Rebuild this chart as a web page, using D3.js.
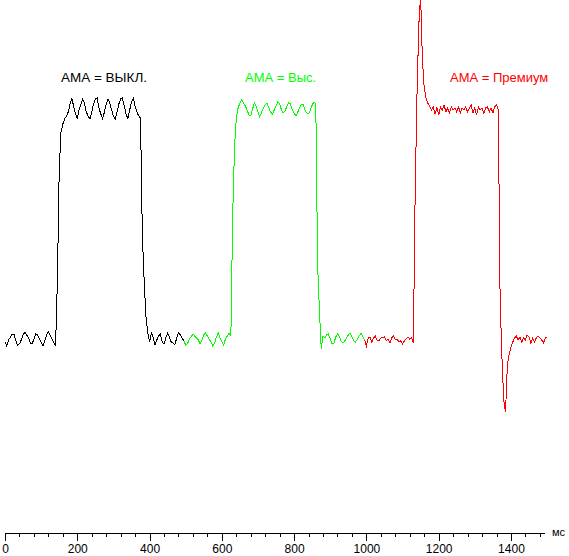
<!DOCTYPE html>
<html>
<head>
<meta charset="utf-8">
<script src="https://cdn.jsdelivr.net/npm/d3@7"></script>
<style>
  html, body { margin: 0; padding: 0; background: #ffffff; }
  svg { display: block; }
</style>
</head>
<body>
<div id="chart"></div>
<script>
// ---------------- DATA ----------------
// time step between samples (ms)
const sampleStepMs = 5;
// start time (ms) of each recorded series
const seriesStartMs = [0, 495, 995];
const seriesNames = ["АМА = ВЫКЛ.", "АМА = Выс.", "АМА = Премиум"];

// relative brightness (0 = dark level, 100 = bright level)
const offValues = [
  -0.9,-2.6,0,1.3,2.6,2.6,-0.4,-2.2,-1.7,0,
  2.2,3.5,2.2,0.9,-1.3,-1.7,0.4,2.6,2.2,0.4,
  -0.9,-2.6,-0.4,2.2,3.5,2.2,0.4,-1.3,-2.2,26.1,
  73.9,90.4,93.9,96.1,97.4,99.1,102.6,104.8,101.7,98.3,
  96.5,100,102.6,104.8,103.0,99.1,97.4,96.1,99.1,102.6,
  104.8,105.2,100.9,98.3,96.1,99.1,102.6,104.8,103.0,100,
  97.4,96.1,99.1,102.6,104.8,105.2,101.7,98.3,96.1,100,
  103.5,105.2,101.7,99.1,97.4,96.5,45.7,26.1,10.4,3.0,
  -0.9,3.0,1.3,-2.2,0,1.7,2.6,-0.9,-1.7,0.9,
  3.0,1.3,-0.9,-1.3,-2.2,0.9,3.0,2.2,0.9,-0.4
];
const highValues = [
  -0.4,-2.2,-1.7,0.4,1.3,2.6,1.7,0.9,0,-1.7,
  0,2.2,3.0,1.7,0.4,-0.9,-2.6,-1.3,1.3,3.0,
  0.9,-0.9,-2.2,0.4,1.7,3.0,1.7,54.3,83.5,96.5,
  100.9,103.0,104.3,103.0,101.7,100,97.8,97.4,100.4,103.0,
  101.7,99.1,97.0,99.1,100.9,102.2,103.0,100.9,99.1,98.3,
  100,101.7,103.5,102.6,100,98.7,99.6,101.7,103.0,102.6,
  100,98.7,97.4,99.1,100.9,102.6,102.6,100,98.7,98.3,
  100,102.2,103.5,102.6,32.6,13.0,-3.9,1.7,0.9,2.2,
  2.6,0.4,-1.7,-1.7,1.3,2.6,1.7,-0.4,-1.3,-0.4,
  0.9,2.2,3.0,1.3,-0.4,-0.9,0.4,1.7,3.0,1.3,
  0
];
const premiumValues = [
  0,-2.6,0.9,1.3,-0.9,0.9,1.7,-0.4,-0.4,0.9,
  0.9,1.3,-0.4,0.4,-1.3,0.9,1.7,0,0.4,-0.9,
  -0.4,-1.7,-0.4,0.4,1.3,0.4,0.9,-1.3,65.2,106.5,
  137,150,121.7,109.6,105.2,103.0,101.7,100,101.3,98.3,
  100.9,97.8,101.3,100,102.2,99.1,100.9,98.7,101.3,100,
  100.9,99.1,101.3,98.7,100.9,100,101.3,99.1,100.9,102.2,
  98.7,100.9,97.8,101.3,100,100.9,98.7,100.9,101.3,99.1,
  100.9,98.7,101.3,102.2,100,17.4,-7.4,-26.1,-31.3,-10.9,
  -6.1,-3.0,-0.9,0.9,1.7,0,1.3,-0.9,0.9,0,
  2.2,1.3,-1.3,0.9,-0.9,0.9,1.7,0.9,0,-1.3,
  0.9,1.3
];
const majorTicks = [0, 200, 400, 600, 800, 1000, 1200, 1400];
const minorTickStepMs = 40;
const axisEndMs = 1492;
const axisUnit = "мс";

// ---------------- LAYOUT / STYLE ----------------
const W = 569, H = 556;
const colors = ["#000000", "#00ff00", "#ff0000"];
const labelX = [61, 245, 450];
const labelWidth = [86, null, null];
const labelY = 82;
const axisY = 533;
const fontFamily = "'Liberation Sans', Arial, sans-serif";

const svg = d3.select("#chart").append("svg")
  .attr("width", W).attr("height", H);

const x = d3.scaleLinear().domain([0, axisEndMs]).range([5, 5 + 0.3614 * axisEndMs]);
const y = d3.scaleLinear().domain([0, 100]).range([340, 110]);

const seriesValues = [offValues, highValues, premiumValues];
const series = seriesValues.map((vals, i) =>
  vals.map((v, j) => ({ t: seriesStartMs[i] + j * sampleStepMs, v })));

const line = d3.line().x(d => x(d.t)).y(d => y(d.v));

svg.append("g").selectAll("path")
  .data(series)
  .join("path")
  .attr("d", line)
  .attr("fill", "none")
  .attr("stroke", (d, i) => colors[i])
  .attr("stroke-width", 1)
  .attr("shape-rendering", "crispEdges");

// labels
svg.append("g").selectAll("text")
  .data(seriesNames)
  .join("text")
  .attr("x", (d, i) => labelX[i])
  .attr("y", labelY)
  .attr("fill", (d, i) => colors[i])
  .attr("font-family", fontFamily)
  .attr("font-size", 13)
  .each(function (d, i) {
    if (labelWidth[i]) {
      d3.select(this).attr("textLength", labelWidth[i]).attr("lengthAdjust", "spacingAndGlyphs");
    }
  })
  .text(d => d);

// axis: minor ticks
const minorTicks = d3.range(0, axisEndMs, minorTickStepMs);
const gMinor = svg.append("g")
  .attr("transform", `translate(0,${axisY})`)
  .call(d3.axisBottom(x).tickValues(minorTicks).tickSize(4).tickSizeOuter(0).tickFormat(""));
// axis: major ticks with labels
const gMajor = svg.append("g")
  .attr("transform", `translate(0,${axisY})`)
  .call(d3.axisBottom(x).tickValues(majorTicks).tickSize(8).tickSizeOuter(0).tickPadding(3).tickFormat(d3.format("d")));

[gMinor, gMajor].forEach(g => {
  g.attr("font-family", fontFamily).attr("font-size", 12);
  g.selectAll("line").attr("stroke", "#000").attr("shape-rendering", "crispEdges");
  g.select(".domain").attr("stroke", "#000").attr("shape-rendering", "crispEdges");
  g.selectAll("text").attr("fill", "#000");
});

svg.append("text")
  .attr("x", 552)
  .attr("y", 536)
  .attr("font-family", fontFamily)
  .attr("font-size", 11)
  .attr("fill", "#000")
  .text(axisUnit);
</script>
</body>
</html>
